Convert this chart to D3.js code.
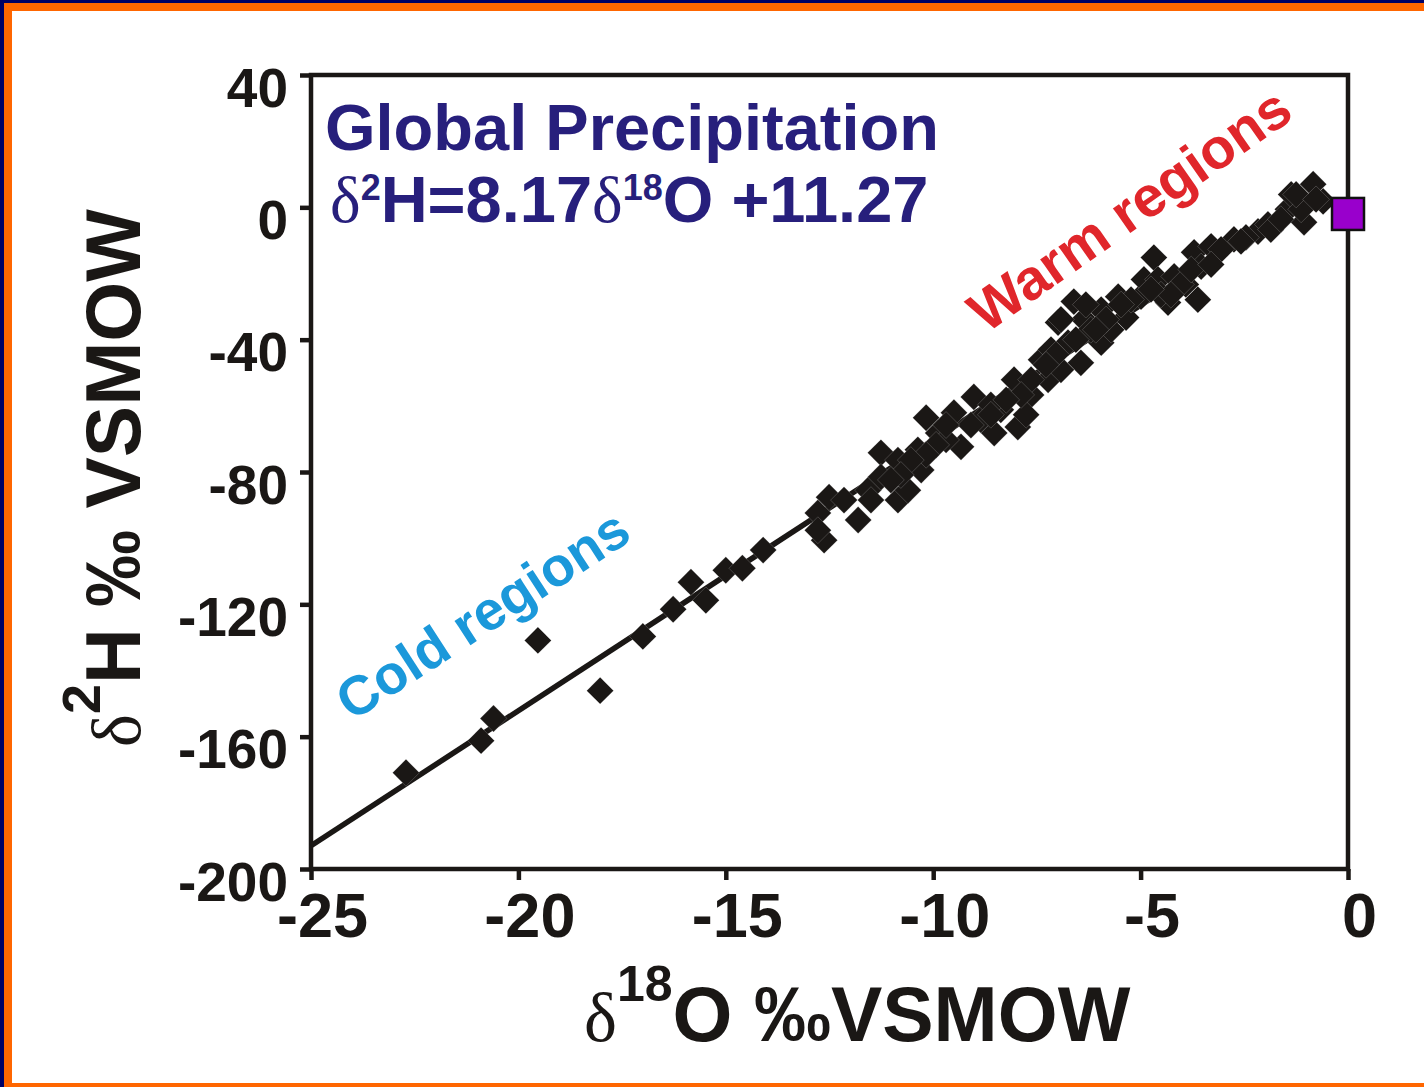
<!DOCTYPE html>
<html>
<head>
<meta charset="utf-8">
<script src="https://cdn.jsdelivr.net/npm/d3@7"></script>
<style>
  html, body { margin: 0; padding: 0; background: #fff; }
  svg { display: block; }
</style>
</head>
<body>
<svg id="chart" width="1424" height="1087"></svg>
<script>
// Axis ticks and their printed labels
const xTicks = [-25, -20, -15, -10, -5, 0];
const xTickLabels = ["-25", "-20", "-15", "-10", "-5", "0"];
const yTicks = [40, 0, -40, -80, -120, -160, -200];
const yTickLabels = ["40", "0", "-40", "-80", "-120", "-160", "-200"];

// Precipitation samples from cold regions: [δ18O, δ2H]
const coldSamples = [
  [-22.71, -170.9], [-20.90, -161.2], [-20.60, -154.5], [-19.53, -130.9],
  [-18.03, -146.1], [-17.00, -129.7], [-16.27, -121.5], [-15.84, -113.3],
  [-15.48, -118.8], [-15.00, -109.7], [-14.60, -109.1], [-14.10, -103.6]
];

// Precipitation samples from temperate and warm regions: [δ18O, δ2H]
const warmSamples = [
  [-12.78, -92.4], [-12.63, -100.6], [-12.78, -97.6], [-12.51, -87.6],
  [-12.15, -88.5], [-11.81, -94.5], [-11.57, -85.5], [-11.26, -74.2],
  [-11.26, -81.5], [-10.85, -76.4], [-10.85, -88.5], [-10.61, -85.5],
  [-10.29, -79.4], [-10.37, -73.3], [-10.17, -63.6], [-9.88, -68.2],
  [-9.50, -62.1], [-9.33, -72.4], [-9.02, -57.3], [-8.85, -64.2],
  [-8.53, -68.2], [-8.05, -52.1], [-7.96, -66.4], [-8.37, -61.2],
  [-7.64, -56.7], [-7.23, -52.1], [-7.40, -46.1], [-6.99, -34.8],
  [-6.75, -40.9], [-6.61, -28.5], [-6.44, -47.0], [-6.36, -33.9],
  [-5.95, -30.9], [-5.95, -40.9], [-5.54, -27.0], [-5.35, -33.3],
  [-4.99, -27.0], [-4.92, -21.8], [-4.68, -15.2], [-4.58, -21.8],
  [-4.34, -28.8], [-4.19, -20.9], [-3.71, -13.6], [-3.62, -27.9],
  [-3.54, -17.9], [-3.91, -23.3], [-3.30, -11.8], [-2.75, -9.7],
  [-2.17, -7.3], [-1.93, -5.2], [-1.45, -0.6], [-1.37, 3.9],
  [-1.06, -4.5], [-0.84, 7.0], [-0.60, 1.8], [-6.92, -49.1],
  [-6.20, -37.0], [-4.51, -26.4], [-2.46, -9.1], [-3.06, -12.7],
  [-5.71, -37.0], [-8.61, -59.7], [-9.69, -70.3], [-7.76, -62.7],
  [-7.16, -43.0], [-4.03, -23.3], [-3.78, -18.8], [-4.27, -26.4],
  [-5.23, -27.9], [-4.75, -24.8], [-5.47, -29.4], [-5.83, -33.9],
  [-6.08, -37.0], [-6.56, -40.0], [-7.04, -44.5], [-7.28, -47.6],
  [-7.64, -52.1], [-7.88, -56.7], [-8.24, -58.2], [-8.61, -62.7],
  [-9.09, -65.8], [-9.69, -65.8], [-9.93, -71.8], [-10.17, -74.8],
  [-10.54, -76.4], [-10.78, -80.9], [-11.02, -82.4], [-11.50, -88.5],
  [-2.58, -10.3], [-1.86, -6.7], [-1.62, -3.6], [-1.13, -0.6],
  [-1.25, 3.9], [-0.77, 2.4], [-3.30, -17.3], [-6.92, -33.9],
  [-6.32, -29.4]
];

// Ocean water reference standard
const vsmow = [[0, -2]];

// Global meteoric water line, δ2H = slope·δ18O + intercept
const gmwlSlope = 8.17;
const gmwlIntercept = 11.27;
const gmwlRange = [-25, -1];

const svg = d3.select("#chart");
const W = 1424, H = 1087;
const boldFont = "'Liberation Sans', Arial, Helvetica, sans-serif";
const serifFont = "'Liberation Serif', 'Times New Roman', serif";
const ink = "#1a1715";

// Slide frame: navy edge, orange band, white page
svg.append("rect").attr("width", W).attr("height", H).attr("fill", "#000066");
svg.append("rect").attr("x", 4).attr("y", 3).attr("width", W - 4).attr("height", H - 3).attr("fill", "#ff6600");
svg.append("rect").attr("x", 12).attr("y", 11).attr("width", W - 12).attr("height", 1072).attr("fill", "#ffffff");

const x = d3.scaleLinear().domain([-25, 0]).range([311, 1348]);
const y = d3.scaleLinear().domain([-200, 40]).range([869, 75]);

// Plot box
svg.append("rect")
  .attr("x", x(-25)).attr("y", y(40))
  .attr("width", x(0) - x(-25)).attr("height", y(-200) - y(40))
  .attr("fill", "none").attr("stroke", ink).attr("stroke-width", 4.5);

// Axes
const yAxis = svg.append("g")
  .attr("transform", `translate(${x(-25)},0)`)
  .call(d3.axisLeft(y).tickValues(yTicks)
    .tickFormat((d, i) => yTickLabels[i]).tickSize(11).tickPadding(12).tickSizeOuter(0));
yAxis.select(".domain").remove();
yAxis.selectAll(".tick line").attr("stroke", ink).attr("stroke-width", 4.5);
yAxis.selectAll(".tick text")
  .attr("fill", ink).attr("font-family", boldFont).attr("font-weight", "bold")
  .attr("font-size", 55).attr("dy", null).attr("y", 31);

const xAxis = svg.append("g")
  .attr("transform", `translate(0,${y(-200)})`)
  .call(d3.axisBottom(x).tickValues(xTicks)
    .tickFormat((d, i) => xTickLabels[i]).tickSize(11).tickPadding(12).tickSizeOuter(0));
xAxis.select(".domain").remove();
xAxis.selectAll(".tick line").attr("stroke", ink).attr("stroke-width", 4.5);
xAxis.selectAll(".tick text")
  .attr("fill", ink).attr("font-family", boldFont).attr("font-weight", "bold")
  .attr("font-size", 63).attr("dy", null).attr("y", 68).attr("dx", 11);

// Meteoric water line
const lineData = gmwlRange.map(o => [o, gmwlSlope * o + gmwlIntercept]);
svg.append("path")
  .datum(lineData)
  .attr("d", d3.line().x(d => x(d[0])).y(d => y(d[1])))
  .attr("fill", "none").attr("stroke", ink).attr("stroke-width", 5.5);

// Sample markers: diamonds
const diamond = d3.symbol().type(d3.symbolSquare).size(19 * 19);
svg.append("g").selectAll("path")
  .data(coldSamples.concat(warmSamples))
  .join("path")
  .attr("d", diamond)
  .attr("transform", d => `translate(${x(d[0])},${y(d[1])}) rotate(45)`)
  .attr("fill", ink)
  .attr("stroke", "#ffffff").attr("stroke-opacity", 0.3).attr("stroke-width", 0.6);

// VSMOW marker
svg.append("g").selectAll("rect")
  .data(vsmow)
  .join("rect")
  .attr("x", d => x(d[0]) - 16).attr("y", d => y(d[1]) - 16)
  .attr("width", 32).attr("height", 32)
  .attr("fill", "#9900cc").attr("stroke", "#111").attr("stroke-width", 2.5);

// Title and regression equation
const navy = "#271f7c";
svg.append("text")
  .attr("x", 325).attr("y", 150)
  .attr("font-family", boldFont).attr("font-weight", "bold").attr("font-size", 65)
  .attr("fill", navy).text("Global Precipitation");

const eq = svg.append("text")
  .attr("x", 330).attr("y", 222)
  .attr("font-family", boldFont).attr("font-weight", "bold").attr("font-size", 65)
  .attr("fill", navy);
eq.append("tspan").attr("font-family", serifFont).attr("font-weight", "normal").text("δ");
eq.append("tspan").attr("font-size", 36).attr("dy", -22).text("2");
eq.append("tspan").attr("dy", 22).text("H=8.17");
eq.append("tspan").attr("font-family", serifFont).attr("font-weight", "normal").text("δ");
eq.append("tspan").attr("font-size", 36).attr("dy", -22).text("18");
eq.append("tspan").attr("dy", 22).text("O +11.27");

// Region annotations
svg.append("text")
  .attr("transform", "translate(352,722) rotate(-33)")
  .attr("font-family", boldFont).attr("font-weight", "bold").attr("font-size", 55)
  .attr("fill", "#1b98da").text("Cold regions");

svg.append("text")
  .attr("transform", "translate(986,334) rotate(-35)")
  .attr("font-family", boldFont).attr("font-weight", "bold").attr("font-size", 57)
  .attr("fill", "#e0262b").text("Warm regions");

// Axis titles
const xTitle = svg.append("text")
  .attr("x", 584).attr("y", 1041)
  .attr("font-family", boldFont).attr("font-weight", "bold").attr("font-size", 77)
  .attr("fill", ink);
xTitle.append("tspan").attr("font-family", serifFont).attr("font-weight", "normal").attr("font-size", 70).text("δ");
xTitle.append("tspan").attr("font-size", 50).attr("dy", -40).text("18");
xTitle.append("tspan").attr("dy", 40).text("O ‰VSMOW");

const yTitle = svg.append("text")
  .attr("transform", "translate(140,747) rotate(-90)")
  .attr("font-family", boldFont).attr("font-weight", "bold").attr("font-size", 77)
  .attr("fill", ink);
yTitle.append("tspan").attr("font-family", serifFont).attr("font-weight", "normal").attr("font-size", 70).text("δ");
yTitle.append("tspan").attr("font-size", 54).attr("dy", -40).text("2");
yTitle.append("tspan").attr("dy", 40).text("H ‰ VSMOW");
</script>
</body>
</html>
